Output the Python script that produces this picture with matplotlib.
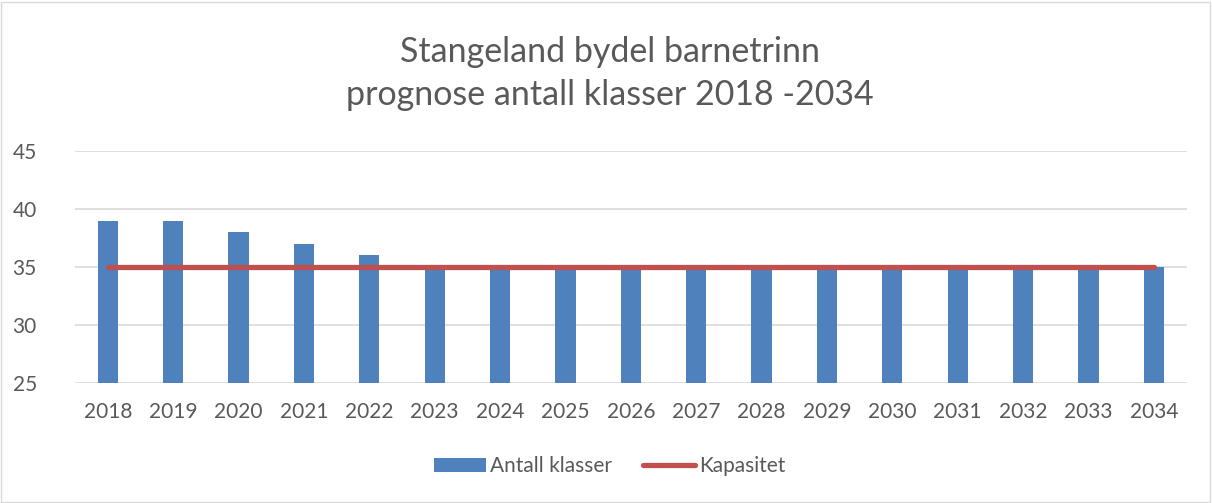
import numpy as np
import matplotlib.pyplot as plt
from matplotlib.patches import Rectangle

plt.rcParams['font.family'] = ['Lato', 'DejaVu Sans']

years = ["2018", "2019", "2020", "2021", "2022", "2023", "2024", "2025", "2026",
         "2027", "2028", "2029", "2030", "2031", "2032", "2033", "2034"]
klasser = [39, 39, 38, 37, 36, 35, 35, 35, 35, 35, 35, 35, 35, 35, 35, 35, 35]
kapasitet = [35] * len(years)

tekst = "#595959"
fig = plt.figure(figsize=(12.12, 5.03), dpi=100)
ax = fig.add_axes([0.062, 0.2386, 0.917, 0.4612])

x = np.arange(len(years))
b = ax.bar(x, klasser, width=0.31, color="#4f81bd", label="Antall klasser", zorder=2)
l, = ax.plot(x, kapasitet, color="#c0504d", lw=3.8, solid_capstyle="round", label="Kapasitet", zorder=3)

ax.set_ylim(25, 45)
ax.set_xlim(-0.5, len(years) - 0.5)
ax.set_yticks([25, 30, 35, 40, 45])
ax.set_xticks(x)
ax.set_xticklabels(years)
ax.yaxis.grid(True, color="#d9d9d9", lw=1.2, zorder=0)
for s in ax.spines.values():
    s.set_visible(False)
ax.tick_params(length=0, labelsize=15, colors=tekst, pad=14)
ax.tick_params(axis="y", pad=45)
for lab in ax.get_yticklabels():
    lab.set_horizontalalignment("left")

fig.text(0.503, 0.854, "Stangeland bydel barnetrinn\nprognose antall klasser 2018 -2034",
         ha="center", va="center", fontsize=24.5, color=tekst, linespacing=1.4)

fig.legend([b, l], ["Antall klasser", "Kapasitet"], loc="center", bbox_to_anchor=(0.503, 0.073),
           ncol=2, frameon=False, fontsize=15, labelcolor=tekst, handlelength=2.5,
           columnspacing=1.5, handletextpad=0.2)

fig.patches.append(Rectangle((0.001, 0.002), 0.997, 0.995, transform=fig.transFigure,
                             fill=False, edgecolor="#d9d9d9", lw=1))

fig.savefig("out.png", dpi=100)
